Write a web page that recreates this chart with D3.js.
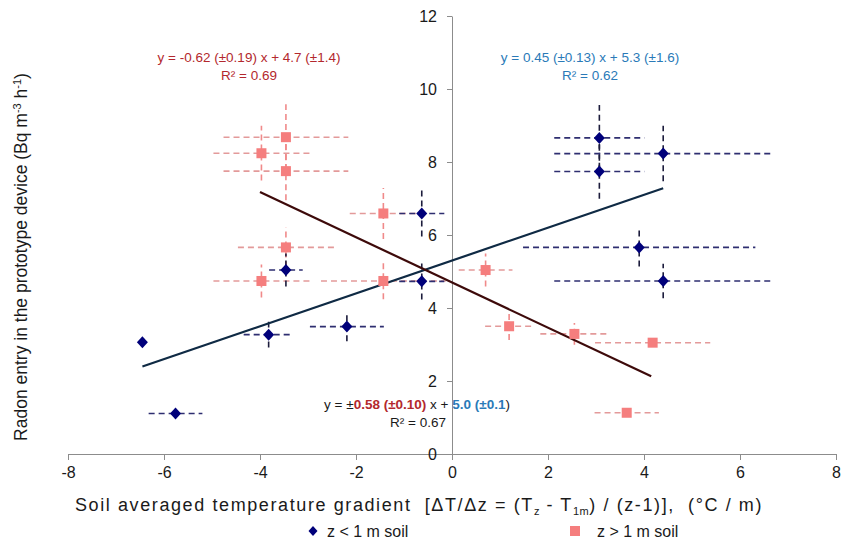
<!DOCTYPE html>
<html>
<head>
<meta charset="utf-8">
<script src="https://cdn.jsdelivr.net/npm/d3@7"></script>
<style>
    body { margin: 0; background: #fff; }
    svg { font-family: "Liberation Sans", Arial, sans-serif; }
    .axis path, .axis line { stroke: #8c8c8c; }
    .axis text { font-size: 16px; fill: #1a1a1a; }
</style>
</head>
<body>
<svg id="chart" width="856" height="539"></svg>
<script>
// z < 1 m soil
var shallowX    = [-6.45, -5.76, -3.82, -2.19, -3.46, -0.63, -0.63, 3.07, 3.07, 4.40, 3.90, 4.40];
var shallowY    = [3.06, 1.11, 3.27, 3.49, 5.04, 6.59, 4.73, 8.66, 7.74, 8.23, 5.66, 4.74];
var shallowXErr = [0, 0.56, 0.52, 0.77, 0.35, 0.47, 0.47, 0.94, 0.94, 2.27, 2.42, 2.27];
var shallowYErr = [0, 0.08, 0.35, 0.4, 0.45, 0.63, 0.5, 0.9, 0.75, 0.76, 0.52, 0.47];

// z > 1 m soil
var deepX    = [-3.46, -3.97, -3.46, -3.46, -3.97, -1.43, -1.43, 0.70, 1.19, 2.55, 4.18, 3.64];
var deepY    = [8.68, 8.24, 7.75, 5.66, 4.74, 6.59, 4.74, 5.04, 3.50, 3.29, 3.05, 1.13];
var deepXErr = [1.3, 1.0, 1.3, 1.0, 1.0, 0.7, 1.3, 0.56, 0.5, 0.71, 1.2, 0.67];
var deepYErr = [0.9, 0.75, 0.8, 0.55, 0.45, 0.7, 0.5, 0.45, 0.38, 0.3, 0.1, 0.1];

// fitted lines: [slope, intercept, xStart, xEnd]
var fitShallow = [0.45, 5.3, -6.45, 4.4];
var fitDeep = [-0.62, 4.7, -4.0, 4.15];

var xTicks = [-8, -6, -4, -2, 0, 2, 4, 6, 8];
var yTicks = [0, 2, 4, 6, 8, 10, 12];

var svg = d3.select("#chart");

var x = d3.scaleLinear().domain([-8, 8]).range([68, 836]);
var y = d3.scaleLinear().domain([0, 12]).range([454, 16]);

function plain(d) { return String(d); }

// axes cross at origin
svg.append("g")
    .attr("class", "axis")
    .attr("transform", "translate(0," + y(0) + ")")
    .call(d3.axisBottom(x).tickValues(xTicks).tickFormat(plain)
        .tickSize(6).tickPadding(7).tickSizeOuter(0))
    .selectAll("text").attr("dy", "0.71em");

svg.append("g")
    .attr("class", "axis")
    .attr("transform", "translate(" + x(0) + ",0)")
    .call(d3.axisLeft(y).tickValues(yTicks).tickFormat(plain)
        .tickSize(5).tickPadding(10).tickSizeOuter(0));

function buildPoints(xs, ys, xe, ye) {
    return xs.map(function (d, i) {
        return {x: d, y: ys[i], xe: xe[i], ye: ye[i]};
    });
}

function drawErrors(points, hColor, vColor) {
    var g = svg.append("g");
    points.forEach(function (p) {
        if (p.xe > 0) {
            g.append("line")
                .attr("x1", x(p.x - p.xe)).attr("x2", x(p.x + p.xe))
                .attr("y1", y(p.y)).attr("y2", y(p.y))
                .attr("stroke", hColor).attr("stroke-width", 1.6)
                .attr("stroke-dasharray", "6,4");
        }
        if (p.ye > 0) {
            g.append("line")
                .attr("x1", x(p.x)).attr("x2", x(p.x))
                .attr("y1", y(p.y - p.ye)).attr("y2", y(p.y + p.ye))
                .attr("stroke", vColor).attr("stroke-width", 1.6)
                .attr("stroke-dasharray", "6,4");
        }
    });
}

var shallow = buildPoints(shallowX, shallowY, shallowXErr, shallowYErr),
    deep = buildPoints(deepX, deepY, deepXErr, deepYErr);

drawErrors(deep, "#e39a9a", "#f08a8a");
drawErrors(shallow, "#2e2e70", "#1c1c3c");

// regression lines
function drawFit(f, color) {
    svg.append("line")
        .attr("x1", x(f[2])).attr("y1", y(f[0] * f[2] + f[1]))
        .attr("x2", x(f[3])).attr("y2", y(f[0] * f[3] + f[1]))
        .attr("stroke", color).attr("stroke-width", 2.2);
}
drawFit(fitShallow, "#0f2a44");
drawFit(fitDeep, "#3d0a0a");

// markers
svg.append("g").selectAll("rect")
    .data(deep)
    .enter()
    .append("rect")
    .attr("x", function (d) { return x(d.x) - 5; })
    .attr("y", function (d) { return y(d.y) - 5; })
    .attr("width", 10).attr("height", 10)
    .attr("fill", "#f57e7e");

var diamondPath = "M0,-6L5.5,0L0,6L-5.5,0Z";
svg.append("g").selectAll("path")
    .data(shallow)
    .enter()
    .append("path")
    .attr("d", diamondPath)
    .attr("transform", function (d) {
        return "translate(" + x(d.x) + "," + y(d.y) + ")";
    })
    .attr("fill", "#00007a");

// equations
var eq = svg.append("g").style("font-size", "13.5px");

eq.append("text").attr("x", 249).attr("y", 62).attr("text-anchor", "middle")
    .attr("fill", "#b3282d").text("y = -0.62 (±0.19) x + 4.7 (±1.4)");
eq.append("text").attr("x", 249).attr("y", 80).attr("text-anchor", "middle")
    .attr("fill", "#b3282d").text("R² = 0.69");

eq.append("text").attr("x", 590).attr("y", 62).attr("text-anchor", "middle")
    .attr("fill", "#2a7ab8").text("y = 0.45 (±0.13) x + 5.3 (±1.6)");
eq.append("text").attr("x", 590).attr("y", 80).attr("text-anchor", "middle")
    .attr("fill", "#2a7ab8").text("R² = 0.62");

var combo = eq.append("text").attr("x", 417).attr("y", 409).attr("text-anchor", "middle").attr("fill", "#1a1a1a");
combo.append("tspan").text("y = ±");
combo.append("tspan").attr("fill", "#b3282d").attr("font-weight", "bold").text("0.58 (±0.10)");
combo.append("tspan").text(" x + ");
combo.append("tspan").attr("fill", "#2a7ab8").attr("font-weight", "bold").text("5.0 (±0.1");
combo.append("tspan").text(")");
eq.append("text").attr("x", 418).attr("y", 427).attr("text-anchor", "middle")
    .attr("fill", "#1a1a1a").text("R² = 0.67");

// axis titles
var xt = svg.append("text")
    .attr("x", 419).attr("y", 511)
    .attr("text-anchor", "middle")
    .style("white-space", "pre")
    .style("letter-spacing", "1.6px")
    .style("font-size", "18px").attr("fill", "#1a1a1a");
xt.append("tspan").text("Soil averaged temperature gradient  [ΔT/Δz = (T");
xt.append("tspan").attr("dy", 4).style("font-size", "11px").style("letter-spacing", "0.5px").text("z");
xt.append("tspan").attr("dy", -4).text(" - T");
xt.append("tspan").attr("dy", 4).style("font-size", "11px").style("letter-spacing", "0.5px").text("1m");
xt.append("tspan").attr("dy", -4).text(") / (z-1)],  (°C / m)");

var yt = svg.append("text")
    .attr("transform", "translate(27,257) rotate(-90)")
    .attr("text-anchor", "middle")
    .style("font-size", "17.5px").attr("fill", "#1a1a1a");
yt.append("tspan").text("Radon entry in the prototype device (Bq m");
yt.append("tspan").attr("dy", -6).style("font-size", "11px").text("-3");
yt.append("tspan").attr("dy", 6).text(" h");
yt.append("tspan").attr("dy", -6).style("font-size", "11px").text("-1");
yt.append("tspan").attr("dy", 6).text(")");

// legend
var legend = svg.append("g").style("font-size", "16px");
legend.append("path")
    .attr("d", "M0,-5L4.5,0L0,5L-4.5,0Z")
    .attr("transform", "translate(313,531)")
    .attr("fill", "#00007a");
legend.append("text").attr("x", 327).attr("y", 537).attr("fill", "#1a1a1a").text("z < 1 m soil");
legend.append("rect").attr("x", 570).attr("y", 526).attr("width", 10).attr("height", 10).attr("fill", "#f57e7e");
legend.append("text").attr("x", 597).attr("y", 537).attr("fill", "#1a1a1a").text("z > 1 m soil");
</script>
</body>
</html>
